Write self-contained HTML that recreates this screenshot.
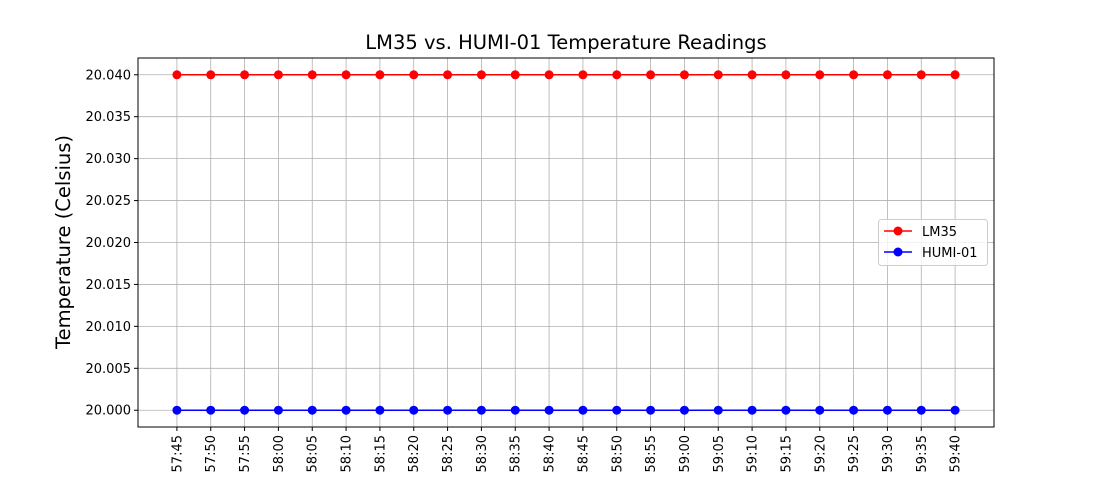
<!DOCTYPE html>
<html><head><meta charset="utf-8"><style>
html,body{margin:0;padding:0;background:#fff;}
svg{display:block;font-family:"DejaVu Sans","Liberation Sans",sans-serif;}
</style></head><body>
<svg id="chart" width="1104" height="480" viewBox="0 0 1104 480">
<rect width="1104" height="480" fill="#fff"/>
<text x="566" y="49" font-size="19.5" text-anchor="middle">LM35 vs. HUMI-01 Temperature Readings</text>
<text transform="translate(70,242) rotate(-90)" font-size="19.5" text-anchor="middle">Temperature (Celsius)</text>
<g id="grid"></g><g id="xticks"></g><g id="yticks"></g><g id="series"></g>
<rect x="138" y="58" width="856" height="369" fill="none" stroke="#000" stroke-width="1"/>
<g>
<rect x="878.5" y="219.5" width="109" height="46" rx="3" fill="#fff" fill-opacity="0.8" stroke="#ccc"/>
<g>
<line x1="884" y1="231" x2="912" y2="231" stroke="red" stroke-width="1.5"/><circle cx="898" cy="231" r="4.5" fill="red"/>
<text x="922" y="236" font-size="13">LM35</text></g>
<g>
<line x1="884" y1="252" x2="912" y2="252" stroke="blue" stroke-width="1.5"/><circle cx="898" cy="252" r="4.5" fill="blue"/>
<text x="922" y="257" font-size="13">HUMI-01</text></g>
</g>
</svg>
<script>
const categories=["57:45","57:50","57:55","58:00","58:05","58:10","58:15","58:20","58:25","58:30","58:35","58:40","58:45","58:50","58:55","59:00","59:05","59:10","59:15","59:20","59:25","59:30","59:35","59:40"];
const lm35=[20.04,20.04,20.04,20.04,20.04,20.04,20.04,20.04,20.04,20.04,20.04,20.04,20.04,20.04,20.04,20.04,20.04,20.04,20.04,20.04,20.04,20.04,20.04,20.04];
const humi01=[20.0,20.0,20.0,20.0,20.0,20.0,20.0,20.0,20.0,20.0,20.0,20.0,20.0,20.0,20.0,20.0,20.0,20.0,20.0,20.0,20.0,20.0,20.0,20.0];
const yTicks=[20.000,20.005,20.010,20.015,20.020,20.025,20.030,20.035,20.040];
const NS="http://www.w3.org/2000/svg";
const L=138,R=994,T=58,B=427;
const allV=lm35.concat(humi01);
const vmin=Math.min(...allV),vmax=Math.max(...allV),pad=(vmax-vmin||1)*0.05;
const y0=vmin-pad,y1=vmax+pad;
const n=categories.length,xm=(n-1)*0.05;
function xs(i){return L+(i+xm)/((n-1)+2*xm)*(R-L);}
function ys(v){return B-(v-y0)/(y1-y0)*(B-T);}
function mk(tag,attrs,parent){const e=document.createElementNS(NS,tag);for(const k in attrs)e.setAttribute(k,attrs[k]);parent.appendChild(e);return e;}
const grid=document.getElementById('grid'),xt=document.getElementById('xticks'),yt=document.getElementById('yticks'),ser=document.getElementById('series');
categories.forEach((c,i)=>{
 const x=xs(i);
 const g=mk('line',{x1:x,x2:x,y1:T,y2:B,stroke:'#b0b0b0','stroke-width':0.8},grid);
 
 
 const tk=mk('line',{x1:x,x2:x,y1:B,y2:B+4,stroke:'#000'},xt);
 
 
 const t=mk('text',{x:0,y:0,'font-size':13,'text-anchor':'end',transform:`translate(${x+4.5},${B+8}) rotate(-90)`},xt);
 t.textContent=c;
 
 
});
yTicks.forEach(v=>{
 const y=ys(v);
 const g=mk('line',{x1:L,x2:R,y1:y,y2:y,stroke:'#b0b0b0','stroke-width':0.8},grid);
 
 
 const tk=mk('line',{x1:L-4,x2:L,y1:y,y2:y,stroke:'#000'},yt);
 
 
 const t=mk('text',{x:L-7,y:y+4.5,'font-size':13,'text-anchor':'end'},yt);
 t.textContent=v.toFixed(3);
 
 
});
function drawSeries(vals,color,name){
 const g=mk('g',{},ser);
 
 
 const p=mk('polyline',{points:vals.map((v,i)=>xs(i)+','+ys(v)).join(' '),fill:'none',stroke:color,'stroke-width':1.5},g);
 
 
 vals.forEach((v,i)=>{
  const c=mk('circle',{cx:xs(i),cy:ys(v),r:4.5,fill:color},g);
  
  
 });
}
drawSeries(lm35,'red','lm35-series');
drawSeries(humi01,'blue','humi01-series');
</script>
</body></html>
